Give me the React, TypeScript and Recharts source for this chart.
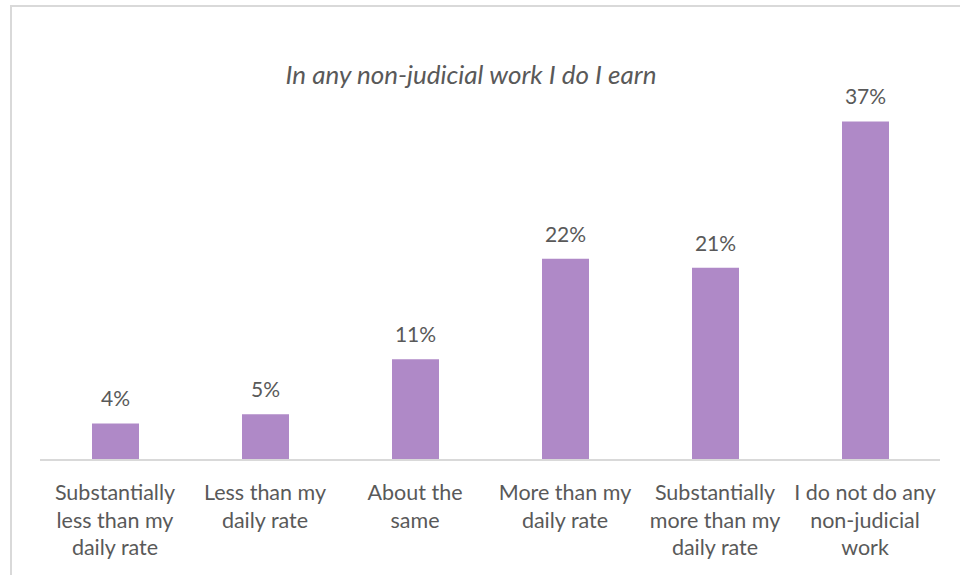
import React from 'react';
import { BarChart, Bar, XAxis, YAxis, LabelList } from 'recharts';

const categories = [
  'Substantially\nless than my\ndaily rate',
  'Less than my\ndaily rate',
  'About the\nsame',
  'More than my\ndaily rate',
  'Substantially\nmore than my\ndaily rate',
  'I do not do any\nnon-judicial\nwork',
];
const shares = [4, 5, 11, 22, 21, 37];

const chartData = categories.map((label, i) => ({ label, share: shares[i] }));

const FONT = 'Lato, "Open Sans", sans-serif';
const GREY = '#595959';

const CategoryTick = (props: any) => {
  const { x, y, payload } = props;
  const lines = String(payload.value).split('\n');
  return (
    <text x={x} y={y} textAnchor="middle" fill={GREY} fontFamily={FONT} fontSize={21.5}>
      {lines.map((line, i) => (
        <tspan key={i} x={x} dy={i === 0 ? 32 : 27.5}>{line}</tspan>
      ))}
    </text>
  );
};

const App: React.FC = () => (
  <div style={{ position: 'absolute', left: 0, top: 0, width: 960, height: 575, background: '#fff', overflow: 'hidden' }}>
    <div style={{ position: 'absolute', left: 10, top: 5, width: 970, height: 600, border: '2px solid #d9d9d9', boxSizing: 'border-box' }} />
    <div style={{ position: 'absolute', left: 0, top: 58, width: 942, textAlign: 'center', fontFamily: FONT, fontStyle: 'italic', fontSize: 26, color: GREY, lineHeight: '32px' }}>
      In any non-judicial work I do I earn
    </div>
    <div style={{ position: 'absolute', left: 0, top: 0 }}>
      <BarChart width={960} height={575} data={chartData} margin={{ top: 94, right: 20, bottom: 0, left: 40 }} barCategoryGap={0}>
        <XAxis dataKey="label" axisLine={{ stroke: '#d9d9d9', strokeWidth: 2 }} tickLine={false} interval={0} tick={<CategoryTick />} height={115} />
        <YAxis hide domain={[0, 40]} />
        <Bar dataKey="share" fill="#af89c7" barSize={47} isAnimationActive={false}>
          <LabelList dataKey="share" position="top" offset={17} formatter={(v: any) => `${v}%`} fill={GREY} fontFamily={FONT} fontSize={21} />
        </Bar>
      </BarChart>
    </div>
  </div>
);

export default App;
